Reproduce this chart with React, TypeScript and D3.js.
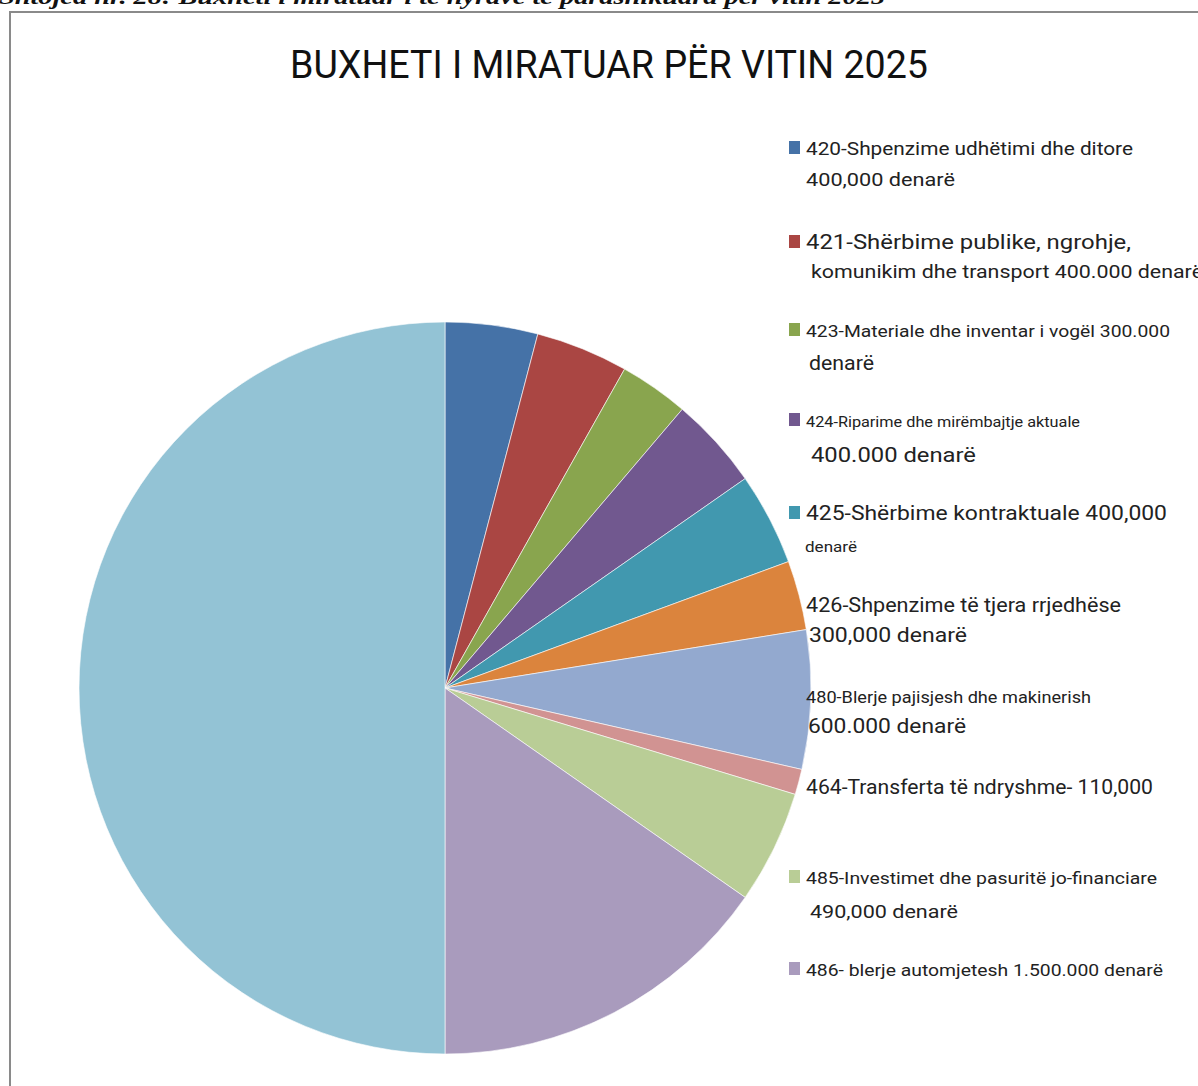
import * as d3 from "d3";
import { useEffect, useRef } from "react";

// Budget lines (denarë). The last, unlabelled slice is the total shown as its own wedge.
const codes = ["420", "421", "423", "424", "425", "426", "480", "464", "485", "486", "total"];
const values = [400000, 400000, 300000, 400000, 400000, 300000, 600000, 110000, 490000, 1500000, 4900000];
const colors = [
    "#4572A7", "#AA4643", "#89A54E", "#71588F", "#4198AF", "#DB843D",
    "#93A9CF", "#D19392", "#B9CD96", "#A99BBD", "#93C3D5",
];
const labelLine1 = [
    "420-Shpenzime udhëtimi dhe ditore",
    "421-Shërbime publike, ngrohje,",
    "423-Materiale dhe inventar i vogël 300.000",
    "424-Riparime dhe mirëmbajtje aktuale",
    "425-Shërbime kontraktuale 400,000",
    "426-Shpenzime të tjera rrjedhëse",
    "480-Blerje pajisjesh dhe makinerish",
    "464-Transferta të ndryshme- 110,000",
    "485-Investimet dhe pasuritë jo-financiare",
    "486- blerje automjetesh 1.500.000 denarë",
];
const labelLine2 = [
    "400,000 denarë",
    "komunikim dhe transport 400.000 denarë",
    "denarë",
    "400.000 denarë",
    "denarë",
    "300,000 denarë",
    "600.000 denarë",
    "",
    "490,000 denarë",
    "",
];
const title = "BUXHETI I MIRATUAR PËR VITIN 2025";
const caption = "Shtojca nr. 28: Buxheti i miratuar i të hyrave të parashikuara për vitin 2025";

// legend layout (the source legend is hand-placed, so it is irregular)
const legendLayout = [
    { y1: 155, s1: 17.5, w1: 327, dx2: 0, y2: 186, s2: 17.5, w2: 149, box: true },
    { y1: 249, s1: 21, w1: 325, dx2: 5, y2: 278, s2: 18, w2: 392, box: true },
    { y1: 337, s1: 17, w1: 364, dx2: 3, y2: 370, s2: 20, w2: 65, box: true },
    { y1: 427, s1: 14, w1: 274, dx2: 5, y2: 462, s2: 21, w2: 165, box: true },
    { y1: 520, s1: 21, w1: 361, dx2: -1, y2: 552, s2: 14, w2: 52, box: true },
    { y1: 612, s1: 20, w1: 315, dx2: 3, y2: 642, s2: 20, w2: 158, box: false },
    { y1: 703, s1: 17, w1: 285, dx2: 2, y2: 733, s2: 20, w2: 158, box: false },
    { y1: 794, s1: 21, w1: 347, dx2: 0, y2: 0, s2: 0, w2: 0, box: false },
    { y1: 884, s1: 17, w1: 351, dx2: 4, y2: 918, s2: 18, w2: 148, box: true },
    { y1: 976, s1: 17, w1: 357, dx2: 0, y2: 0, s2: 0, w2: 0, box: true },
];

const App = () => {
    const svgRef = useRef<SVGSVGElement | null>(null);
    const dimensions = { width: 1198, height: 1086 };
    const center = { x: 445, y: 688 };
    const radius = 366;

    useEffect(() => {
        const svg = d3.select(svgRef.current);
        svg.selectAll("*").remove();

        svg.append("rect")
            .attr("width", dimensions.width)
            .attr("height", dimensions.height)
            .attr("fill", "#fff");

        // caption of the document, cut off at the top of the page
        svg.append("text")
            .attr("x", -1)
            .attr("y", 4)
            .attr("font-family", "'Liberation Serif', 'DejaVu Serif', serif")
            .attr("font-style", "italic")
            .attr("font-weight", "bold")
            .attr("font-size", 20)
            .attr("textLength", 886)
            .attr("lengthAdjust", "spacingAndGlyphs")
            .attr("fill", "#111")
            .text(caption);

        // frame
        svg.append("rect")
            .attr("x", 10)
            .attr("y", 12)
            .attr("width", 1220)
            .attr("height", 1100)
            .attr("fill", "none")
            .attr("stroke", "#8a8a8a")
            .attr("stroke-width", 2);

        svg.append("text")
            .attr("x", 290)
            .attr("y", 78)
            .attr("font-family", "Roboto, 'Noto Sans', sans-serif")
            .attr("font-size", 38)
            .attr("textLength", 638)
            .attr("lengthAdjust", "spacingAndGlyphs")
            .attr("fill", "#111")
            .text(title);

        const pie = d3
            .pie<number>()
            .sort(null)
            .value((d) => d);
        const arc = d3
            .arc<d3.PieArcDatum<number>>()
            .innerRadius(0)
            .outerRadius(radius);

        svg.append("g")
            .attr("transform", `translate(${center.x}, ${center.y})`)
            .selectAll("path")
            .data(pie(values))
            .join("path")
            .attr("d", arc)
            .attr("fill", (_, i) => colors[i])
            .attr("stroke", "#fff")
            .attr("stroke-width", 0.6)
            .attr("data-code", (_, i) => codes[i]);

        // legend
        const legend = svg.append("g").attr("font-family", "Roboto, 'Noto Sans', sans-serif").attr("fill", "#222");
        labelLine1.forEach((label, i) => {
            const l = legendLayout[i];
            if (l.box) {
                legend.append("rect")
                    .attr("x", 789)
                    .attr("y", l.y1 - 14)
                    .attr("width", 11)
                    .attr("height", 13)
                    .attr("fill", colors[i]);
            }
            legend.append("text")
                .attr("x", 806)
                .attr("y", l.y1)
                .attr("font-size", l.s1)
                .attr("textLength", l.w1)
                .attr("lengthAdjust", "spacingAndGlyphs")
                .text(label);
            if (labelLine2[i]) {
                legend.append("text")
                    .attr("x", 806 + l.dx2)
                    .attr("y", l.y2)
                    .attr("font-size", l.s2)
                    .attr("textLength", l.w2)
                    .attr("lengthAdjust", "spacingAndGlyphs")
                    .text(labelLine2[i]);
            }
        });
    }, []);

    return (
        <svg
            ref={svgRef}
            width={dimensions.width}
            height={dimensions.height}
            style={{ position: "absolute", top: 0, left: 0 }}
        />
    );
};

export default App;
